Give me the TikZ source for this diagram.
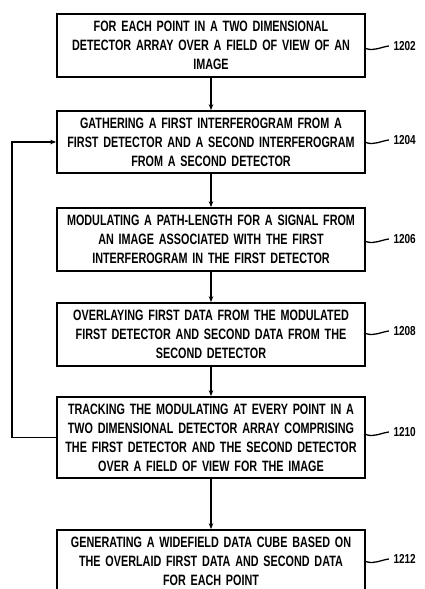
\documentclass[tikz,border=0pt]{standalone}
\usepackage{fontspec}
\newfontfamily\boxfont{Liberation Sans}[FakeStretch=0.72,WordSpace=1.6]
\newfontfamily\numfont{Liberation Sans}[FakeStretch=0.77]
\usetikzlibrary{arrows.meta}
\tikzset{
  stepbox/.style={draw, line width=1.7pt, minimum width=308pt, inner sep=0pt,
    align=center, font=\boxfont\bfseries\fontsize{15}{19}\selectfont},
  flow/.style={line width=1.5pt, -{Stealth[length=6pt,width=4.5pt]}},
  refnum/.style={anchor=west, inner sep=0pt, font=\numfont\bfseries\fontsize{13}{14}\selectfont},
  squig/.style={line width=1.3pt}
}
\begin{document}
\begin{tikzpicture}[x=1pt,y=-1pt]
\useasboundingbox (0,0) rectangle (424,589);
\node[stepbox, minimum height=63pt] (b1) at (211,45.5) {FOR EACH POINT IN A TWO DIMENSIONAL\\DETECTOR ARRAY OVER A FIELD OF VIEW OF AN\\IMAGE};
\node[stepbox, minimum height=62pt] (b2) at (211,142) {GATHERING A FIRST INTERFEROGRAM FROM A\\FIRST DETECTOR AND A SECOND INTERFEROGRAM\\FROM A SECOND DETECTOR};
\node[stepbox, minimum height=63pt] (b3) at (211,239.5) {MODULATING A PATH-LENGTH FOR A SIGNAL FROM\\AN IMAGE ASSOCIATED WITH THE FIRST\\INTERFEROGRAM IN THE FIRST DETECTOR};
\node[stepbox, minimum height=63pt] (b4) at (211,334.5) {OVERLAYING FIRST DATA FROM THE MODULATED\\FIRST DETECTOR AND SECOND DATA FROM THE\\SECOND DETECTOR};
\node[stepbox, minimum height=81pt] (b5) at (211,437.5) {TRACKING THE MODULATING AT EVERY POINT IN A\\TWO DIMENSIONAL DETECTOR ARRAY COMPRISING\\THE FIRST DETECTOR AND THE SECOND DETECTOR\\OVER A FIELD OF VIEW FOR THE IMAGE};
\node[stepbox, minimum height=63pt] (b6) at (211,561.5) {GENERATING A WIDEFIELD DATA CUBE BASED ON\\THE OVERLAID FIRST DATA AND SECOND DATA\\FOR EACH POINT};
\draw[flow] (b1) -- (b2);
\draw[flow] (b2) -- (b3);
\draw[flow] (b3) -- (b4);
\draw[flow] (b4) -- (b5);
\draw[flow] (b5) -- (b6);
\coordinate (c1) at (12,437.5);
\coordinate (c2) at (12,142);
\draw[flow] (b5.west) -- (c1) -- (c2) -- (b2.west);
\foreach \n/\b/\y in {1202/b1/47,1204/b2/141,1206/b3/240,1208/b4/332,1210/b5/433,1212/b6/560}{
  \draw[squig] (\b.east |- 0,\y+1.5) .. controls +(8,3) and +(-8,1) .. ++(23,-2.5) node[refnum, right=4pt] (l\n) {\n};
}
\end{tikzpicture}
\end{document}
